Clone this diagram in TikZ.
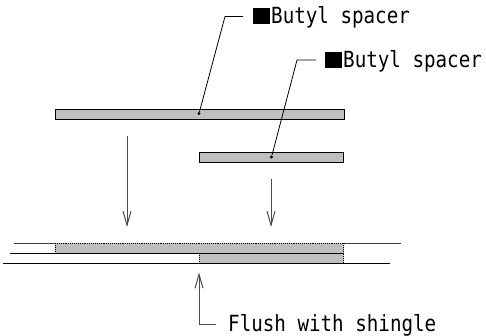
\documentclass[tikz,border=0pt]{standalone}
\usepackage{fontspec}
\usepackage{graphicx}
\setmonofont{DejaVu Sans Mono}
\usetikzlibrary{arrows.meta,positioning}
\definecolor{spacergray}{gray}{0.75}
\newcommand{\tallmono}[1]{\scalebox{1}[1.16]{#1}}
\tikzset{
  bar/.style={draw=black,fill=spacergray,line width=0.9pt,inner sep=0pt,anchor=north west},
  filler/.style={fill=spacergray,inner sep=0pt,anchor=north west},
  dot/.style={circle,fill=black,inner sep=0pt,minimum size=3.2pt},
  label/.style={inner sep=0pt,anchor=base west,font=\fontsize{19.2}{20}\ttfamily},
  leader/.style={black,line width=0.8pt},
  rail/.style={black,line width=1pt},
  seam/.style={black,line width=0.9pt,densely dotted},
  push/.style={black!70,line width=1pt,-{Straight Barb[length=14pt,width=8pt]}}
}
\begin{document}
\begin{tikzpicture}[x=1pt,y=-1pt]
\useasboundingbox (0,0) rectangle (486,336);
% spacers before fitting
\node [bar,minimum width=288.5,minimum height=10] (upper) at (55,109) {};
\node [bar,minimum width=144,minimum height=10] (lower) at (199,152.5) {};
\node [dot] (upperdot) at (199,113.5) {};
\node [dot] (lowerdot) at (271.5,157) {};
\node [label] (upperlabel) at (253,24) {\rule{17pt}{16pt}\kern1pt\tallmono{Butyl spacer}};
\node [label] (lowerlabel) at (325,68) {\rule{17pt}{16pt}\kern1pt\tallmono{Butyl spacer}};
\coordinate (upperbend) at (225,16.5);
\coordinate (upperend) at (243,16.5);
\coordinate (lowerbend) at (297,60);
\coordinate (lowerend) at (316,60);
\draw [leader] (upperdot) -- (upperbend) -- (upperend);
\draw [leader] (lowerdot) -- (lowerbend) -- (lowerend);
% arrows
\coordinate (leftfrom) at (127,136);
\coordinate (leftto) at (127,227);
\coordinate (rightfrom) at (271,179);
\coordinate (rightto) at (271,227);
\draw [push] (leftfrom) -- (leftto);
\draw [push] (rightfrom) -- (rightto);
% fitted spacers
\node [filler,minimum width=288.5,minimum height=10] (upperfit) at (55,243) {};
\node [filler,minimum width=144.5,minimum height=10] (lowerfit) at (199,253.3) {};
\coordinate (topstart) at (14,243);
\coordinate (topend) at (401,243);
\coordinate (midstart) at (10,253.3);
\coordinate (midend) at (343.5,253.3);
\coordinate (botstart) at (3,263.3);
\coordinate (botend) at (390,263.3);
\draw [rail,black!75] (topstart) -- (upperfit.north west);
\draw [rail,black!75] (upperfit.north east) -- (topend);
\draw [seam] (upperfit.north west) -- (upperfit.north east);
\draw [seam] (upperfit.north west) -- (upperfit.south west);
\draw [seam] (upperfit.north east) -- (lowerfit.south east);
\draw [seam] (lowerfit.north west) -- (lowerfit.south west);
\draw [rail] (midstart) -- (midend);
\draw [rail] (botstart) -- (botend);
% flush mark
\node [label] (flushlabel) at (228,331) {\tallmono{Flush with shingle}};
\coordinate (flushtip) at (199,272.5);
\coordinate (flushbend) at (199,324);
\coordinate (flushend) at (216,324);
\draw [push] (flushend) -- (flushbend) -- (flushtip);
\end{tikzpicture}
\end{document}
